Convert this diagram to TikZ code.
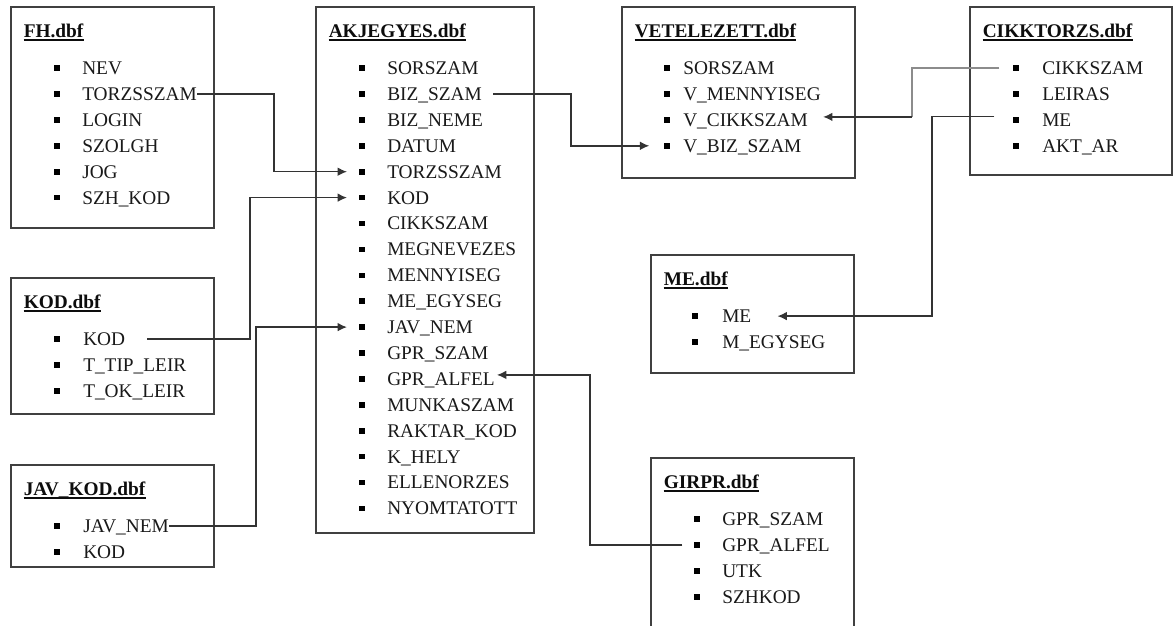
\documentclass[tikz,border=0pt]{standalone}
\usepackage{fontspec}
\setmainfont{Liberation Serif}
\usetikzlibrary{calc,arrows.meta}

\tikzset{
  boxline/.style={draw=black!75, line width=1.1pt},
  ttl/.style={inner sep=0pt, anchor=base west, text=black!95,
    font=\fontsize{14.5}{17}\selectfont\bfseries},
  uline/.style={draw=black!95, line width=1.6pt},
  item/.style={inner sep=0pt, anchor=base west, text=black!90,
    font=\fontsize{14.5}{17}\selectfont, text height=9.6pt, text depth=0pt},
  bullet/.style={fill=black, draw=none, inner sep=0pt, minimum size=4.2pt},
  link/.style={draw=black!80, line width=1.05pt, -{Latex[length=7pt,width=6.5pt]}},
  linkpale/.style={draw=black!45, line width=1.05pt},
}

% #1 id, #2 left, #3 top, #4 right, #5 bottom,
% #6 bullet offset, #7 text offset, #8 title, #9 key/field list
\newcommand\dbtable[9]{%
  \draw[boxline] (#2,#3) rectangle (#4,#5);
  \node[ttl] (#1) at ({#2+12.5},{#3+30}) {#8};
  \draw[uline] ($(#1.base west)+(0,3)$) -- ($(#1.base east)+(0,3)$);
  \foreach \k/\txt [count=\i from 0] in {#9}{%
    \node[item] (#1-\k) at ({#2+#7},{#3+67.5+25.9*\i}) {\txt};
    \node[bullet] (#1-\k-b) at ({#2+#6},{#3+61.1+25.9*\i}) {};
  }%
}

\begin{document}
\begin{tikzpicture}[x=0.75pt, y=-0.75pt]
\useasboundingbox (0,0) rectangle (1173,625);
\clip (0,0) rectangle (1173,625);
\fill[white] (0,0) rectangle (1173,625);

\dbtable{fh}{11}{7}{214}{228}{46}{71}{FH.dbf}%
  {nev/NEV, torzsszam/TORZSSZAM, login/LOGIN, szolgh/SZOLGH, jog/JOG, szhkod/SZH\_KOD}
\dbtable{akj}{316}{7}{534}{533}{46}{71}{AKJEGYES.dbf}%
  {sorszam/SORSZAM, bizszam/BIZ\_SZAM, bizneme/BIZ\_NEME, datum/DATUM,
   torzsszam/TORZSSZAM, kod/KOD, cikkszam/CIKKSZAM, megnevezes/MEGNEVEZES,
   mennyiseg/MENNYISEG, meegyseg/ME\_EGYSEG, javnem/JAV\_NEM, gprszam/GPR\_SZAM,
   gpralfel/GPR\_ALFEL, munkaszam/MUNKASZAM, raktarkod/RAKTAR\_KOD, khely/K\_HELY,
   ellenorzes/ELLENORZES, nyomtatott/NYOMTATOTT}
\dbtable{vet}{622}{7}{855}{178}{45}{61}{VETELEZETT.dbf}%
  {sorszam/SORSZAM, vmennyiseg/V\_MENNYISEG, vcikkszam/V\_CIKKSZAM, vbizszam/V\_BIZ\_SZAM}
\dbtable{cik}{970}{7}{1172}{175}{46}{72}{CIKKTORZS.dbf}%
  {cikkszam/CIKKSZAM, leiras/LEIRAS, me/ME, aktar/AKT\_AR}
\dbtable{kod}{11}{278}{214}{414}{46}{72}{KOD.dbf}%
  {kod/KOD, ttipleir/T\_TIP\_LEIR, tokleir/T\_OK\_LEIR}
\dbtable{jav}{11}{465}{214}{567}{46}{72}{JAV\_KOD.dbf}%
  {javnem/JAV\_NEM, kod/KOD}
\dbtable{me}{651}{255}{854}{373}{44}{71}{ME.dbf}%
  {me/ME, megyseg/M\_EGYSEG}
\dbtable{gir}{651}{458}{854}{640}{46}{71}{GIRPR.dbf}%
  {gprszam/GPR\_SZAM, gpralfel/GPR\_ALFEL, utk/UTK, szhkod/SZHKOD}

% vertical lanes of the connectors
\coordinate (l1) at (274,0);
\coordinate (l2) at (250,0);
\coordinate (l3) at (256,0);
\coordinate (l4) at (571,0);
\coordinate (l5) at (912,0);
\coordinate (l6) at (932,0);
\coordinate (l7) at (590,0);

\draw[link, shorten >=9pt] (fh-torzsszam.east) -- (fh-torzsszam.east -| l1)
  |- (akj-torzsszam-b);
\draw[link, shorten >=9pt] ($(kod-kod.east)+(22,0)$) coordinate (k0)
  -- (k0 -| l2) |- (akj-kod-b);
\draw[link, shorten >=9pt] (jav-javnem.east) -- (jav-javnem.east -| l3)
  |- (akj-javnem-b);
\draw[link, shorten >=11pt] ($(akj-bizszam.east)+(11,0)$) coordinate (b0)
  -- (b0 -| l4) |- (vet-vbizszam-b);

\coordinate (c9) at ($(vet-vcikkszam.east)+(15,-3)$);
\draw[linkpale] ($(cik-cikkszam-b.west)+(-13.5,0)$) coordinate (c0)
  -- (c0 -| l5) -- (c9 -| l5);
\draw[link] (c9 -| l5) -- (c9);

\draw[link] ($(cik-me-b.west)+(-18.5,-3.5)$) coordinate (m0)
  -- (m0 -| l6) |- ($(me-me.east)+(26,0)$);
\draw[link] ($(gir-gpralfel-b.west)+(-11.5,0)$) coordinate (g0)
  -- (g0 -| l7) |- ($(akj-gpralfel.east)+(2,-4)$);
\end{tikzpicture}
\end{document}
